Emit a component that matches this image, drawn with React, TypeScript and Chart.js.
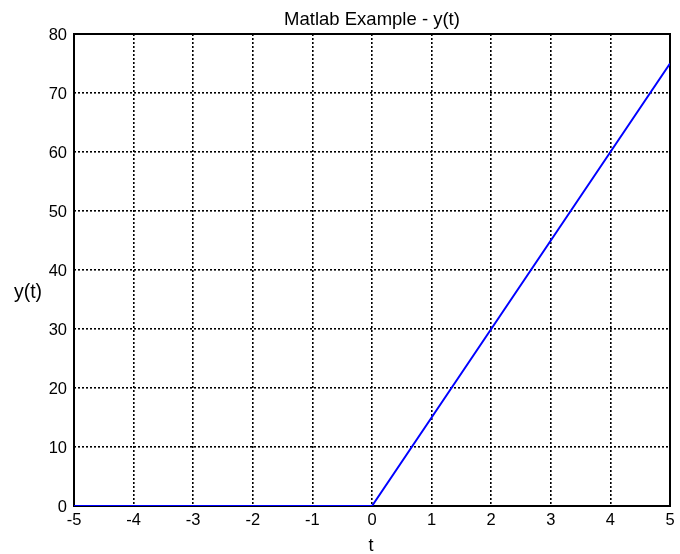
import React, { useEffect, useRef } from "react";
import Chart from "chart.js/auto";

const tValues = [-5, 0, 1, 2, 3, 4, 5];
const yValues = [0, 0, 15, 30, 45, 60, 75];
const xTicks = [-5, -4, -3, -2, -1, 0, 1, 2, 3, 4, 5];
const yTicks = [0, 10, 20, 30, 40, 50, 60, 70, 80];
const titleText = "Matlab Example - y(t)";
const xLabelText = "t";
const yLabelText = "y(t)";

const FONT = "'Liberation Sans', Arial, sans-serif";

const matlabDecor = {
  id: "matlabDecor",
  beforeDatasetsDraw(chart: any) {
    const { ctx, chartArea } = chart;
    ctx.save();
    ctx.strokeStyle = "#000";
    ctx.lineWidth = 2;
    ctx.setLineDash([]);
    ctx.strokeRect(chartArea.left, chartArea.top, chartArea.right - chartArea.left, chartArea.bottom - chartArea.top);
    ctx.restore();
  },
  afterDraw(chart: any) {
    const { ctx, chartArea } = chart;
    const cx = (chartArea.left + chartArea.right) / 2;
    ctx.save();
    ctx.fillStyle = "#000";
    ctx.textBaseline = "alphabetic";
    ctx.textAlign = "center";
    ctx.font = `18.5px ${FONT}`;
    ctx.fillText(titleText, cx, 25);
    ctx.font = `18px ${FONT}`;
    ctx.fillText(xLabelText, cx - 1, 551);
    ctx.font = `19.5px ${FONT}`;
    ctx.fillText(yLabelText, 28, 298);
    ctx.restore();
  },
};

export default function App() {
  const ref = useRef<HTMLCanvasElement | null>(null);
  useEffect(() => {
    if (!ref.current) return;
    const chart = new Chart(ref.current, {
      type: "line",
      data: {
        datasets: [
          {
            data: tValues.map((t, i) => ({ x: t, y: yValues[i] })),
            borderColor: "#0000ff",
            borderWidth: 2,
            pointRadius: 0,
            fill: false,
            tension: 0,
          },
        ],
      },
      options: {
        responsive: false,
        animation: false,
        layout: { padding: { top: 34, right: 10, left: 0, bottom: 0 } },
        plugins: { legend: { display: false }, tooltip: { enabled: false }, title: { display: false } },
        scales: {
          x: {
            type: "linear",
            min: -5,
            max: 5,
            afterBuildTicks: (s: any) => {
              s.ticks = xTicks.map((v) => ({ value: v }));
            },
            afterFit: (s: any) => {
              s.height = 48;
            },
            ticks: { color: "#000", font: { family: FONT, size: 16.5 }, padding: 5, maxRotation: 0, autoSkip: false },
            grid: { color: "#000", lineWidth: 1.6, drawTicks: false },
            border: { display: false, dash: [2, 2] },
          },
          y: {
            type: "linear",
            min: 0,
            max: 80,
            afterBuildTicks: (s: any) => {
              s.ticks = yTicks.map((v) => ({ value: v }));
            },
            afterFit: (s: any) => {
              s.width = 74;
            },
            ticks: { color: "#000", font: { family: FONT, size: 16.5 }, padding: 7, labelOffset: 1, autoSkip: false },
            grid: { color: "#000", lineWidth: 1.6, drawTicks: false },
            border: { display: false, dash: [2, 2] },
          },
        },
      },
      plugins: [matlabDecor],
    } as any);
    return () => chart.destroy();
  }, []);
  return (
    <div style={{ position: "fixed", left: 0, top: 0, width: 680, height: 554, background: "#fff" }}>
      <canvas ref={ref} width={680} height={554} />
    </div>
  );
}
